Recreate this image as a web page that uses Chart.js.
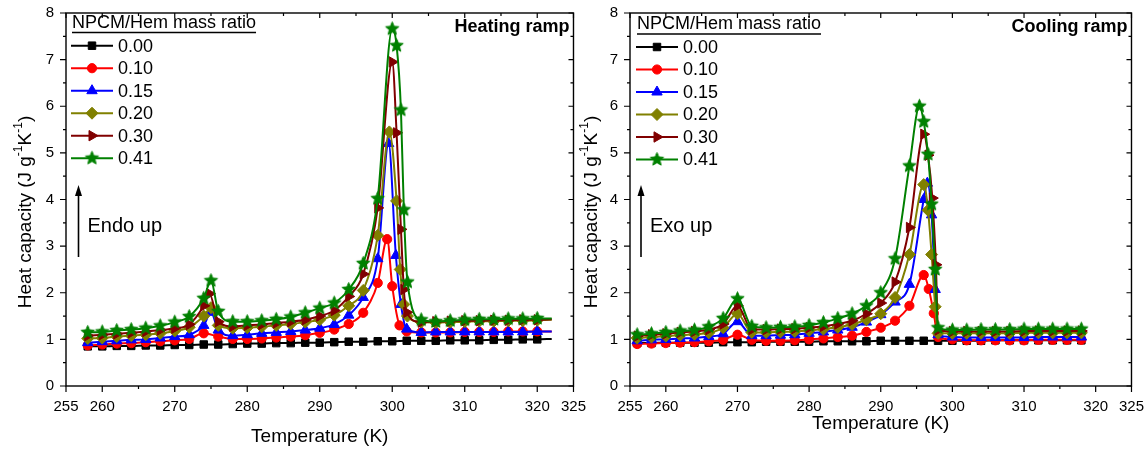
<!DOCTYPE html>
<html lang="en">
<head>
<meta charset="UTF-8">
<title>Heat capacity - heating and cooling ramps</title>
<script src="https://cdn.jsdelivr.net/npm/chart.js"></script>
<style>
  body { margin: 0; background: #fff; }
  #wrap { position: relative; width: 1148px; height: 450px; overflow: hidden; }
  canvas { position: absolute; top: 0; }
  #heatChart { left: 0; }
  #coolChart { left: 570px; }
</style>
</head>
<body>
<div id="wrap">
  <canvas id="heatChart" width="590" height="450"></canvas>
  <canvas id="coolChart" width="578" height="450"></canvas>
</div>
<script>
// NPCM/Hem mass ratios
const ratioLabels = ['0.00', '0.10', '0.15', '0.20', '0.30', '0.41'];
const seriesColors = ['#000000', '#ff0000', '#0000ff', '#808000', '#800000', '#008000'];

// axis ticks
const xTickValues = [255, 260, 270, 280, 290, 300, 310, 320, 325];
const xMinorValues = [265, 275, 285, 295, 305, 315];
const yTickValues = [0, 1, 2, 3, 4, 5, 6, 7, 8];

// heating ramp, temperature (K) and heat capacity (J/gK)
const heatT_000 = [258,260,262,264,266,268,270,272,274,276,278,280,282,284,286,288,290,292,294,296,298,300,302,304,306,308,310,312,314,316,318,320,322];
const heatCp_000 = [0.85,0.85,0.86,0.86,0.87,0.87,0.88,0.88,0.89,0.89,0.90,0.91,0.91,0.92,0.92,0.93,0.93,0.94,0.95,0.95,0.96,0.96,0.97,0.97,0.97,0.98,0.98,0.98,0.99,0.99,1.00,1.00,1.01];

const heatT_010 = [258,260,262,264,266,268,270,272,274,276,278,280,282,284,286,288,290,292,294,296,298,299.3,300,301,302,304,306,308,310,312,314,316,318,320,322];
const heatCp_010 = [0.87,0.89,0.91,0.92,0.94,0.96,0.98,1.01,1.13,1.06,1.01,1.01,1.02,1.04,1.06,1.09,1.14,1.21,1.33,1.57,2.21,3.15,2.14,1.30,1.17,1.15,1.15,1.15,1.16,1.16,1.16,1.17,1.17,1.17,1.17];

const heatT_015 = [258,260,262,264,266,268,270,272,274,275,276,278,280,282,284,286,288,290,292,294,296,298,299.5,300.5,301.2,302,304,306,308,310,312,314,316,318,320,322];
const heatCp_015 = [0.93,0.95,0.97,0.99,1.00,1.03,1.06,1.10,1.30,1.58,1.20,1.08,1.10,1.13,1.15,1.17,1.20,1.24,1.32,1.52,1.90,2.73,5.20,2.80,1.75,1.22,1.15,1.16,1.16,1.16,1.16,1.16,1.16,1.16,1.17,1.17];

const heatT_020 = [258,260,262,264,266,268,270,272,274,275,276,278,280,282,284,286,288,290,292,294,296,298,299.6,300.6,301.1,301.6,302.1,304,306,308,310,312,314,316,318,320,322];
const heatCp_020 = [1.02,1.03,1.06,1.08,1.10,1.13,1.18,1.26,1.50,1.68,1.30,1.24,1.25,1.27,1.30,1.33,1.37,1.42,1.52,1.72,2.05,3.23,5.45,3.97,2.50,1.75,1.50,1.37,1.36,1.37,1.38,1.39,1.39,1.40,1.40,1.41,1.42];

const heatT_030 = [258,260,262,264,266,268,270,272,274,274.8,276,278,280,282,284,286,288,290,292,294,296,298,300,300.6,301.2,301.6,302,304,306,308,310,312,314,316,318,320,322];
const heatCp_030 = [1.08,1.10,1.12,1.14,1.17,1.20,1.24,1.32,1.72,1.98,1.38,1.28,1.30,1.32,1.35,1.38,1.42,1.50,1.62,1.92,2.40,3.82,6.95,5.43,3.36,2.07,1.58,1.37,1.38,1.39,1.40,1.40,1.41,1.41,1.42,1.42,1.43];

const heatT_041 = [258,260,262,264,266,268,270,272,274,275,276,278,280,282,284,286,288,290,292,294,296,298,300,300.6,301.2,301.6,302.1,304,306,308,310,312,314,316,318,320,322];
const heatCp_041 = [1.15,1.16,1.19,1.21,1.24,1.29,1.37,1.49,1.88,2.26,1.60,1.38,1.38,1.40,1.43,1.48,1.57,1.67,1.78,2.07,2.63,4.02,7.66,7.30,5.92,3.78,2.23,1.42,1.38,1.40,1.42,1.43,1.43,1.44,1.44,1.45,1.45];

// cooling ramp
const coolT_000 = [256,258,260,262,264,266,268,270,272,274,276,278,280,282,284,286,288,290,292,294,296,298,300,302,304,306,308,310,312,314,316,318];
const coolCp_000 = [0.92,0.92,0.93,0.93,0.93,0.93,0.94,0.94,0.94,0.95,0.95,0.95,0.95,0.96,0.96,0.96,0.96,0.97,0.97,0.97,0.97,0.97,0.97,0.97,0.97,0.98,0.98,0.98,0.98,0.98,0.98,0.98];

const coolT_010 = [256,258,260,262,264,266,268,270,272,274,276,278,280,282,284,286,288,290,292,294,296,296.7,297.4,298,300,302,304,306,308,310,312,314,316,318];
const coolCp_010 = [0.90,0.91,0.92,0.93,0.94,0.96,0.99,1.10,0.99,0.97,0.97,0.98,1.00,1.02,1.05,1.08,1.16,1.25,1.40,1.72,2.38,2.08,1.56,1.05,1.00,0.98,0.98,0.98,0.98,0.98,0.99,0.99,0.99,0.99];

const coolT_015 = [256,258,260,262,264,266,268,270,272,274,276,278,280,282,284,286,288,290,292,294,296,296.5,297.1,297.6,298,300,302,304,306,308,310,312,314,316,318];
const coolCp_015 = [0.97,0.99,1.00,1.02,1.03,1.06,1.12,1.38,1.08,1.08,1.09,1.10,1.13,1.16,1.20,1.26,1.37,1.53,1.80,2.18,4.00,4.35,3.67,2.07,1.10,1.05,1.04,1.04,1.04,1.04,1.04,1.05,1.05,1.05,1.05];

const coolT_020 = [256,258,260,262,264,266,268,270,272,274,276,278,280,282,284,286,288,290,292,294,296,296.6,297.1,297.6,298,300,302,304,306,308,310,312,314,316,318];
const coolCp_020 = [1.03,1.05,1.07,1.09,1.11,1.14,1.25,1.55,1.15,1.15,1.16,1.17,1.19,1.22,1.26,1.32,1.42,1.55,1.90,2.82,4.32,3.77,2.82,1.70,1.13,1.13,1.13,1.13,1.13,1.13,1.14,1.14,1.14,1.14,1.14];

const coolT_030 = [256,258,260,262,264,266,268,270,272,274,276,278,280,282,284,286,288,290,292,294,296,296.6,297.2,297.7,298,300,302,304,306,308,310,312,314,316,318];
const coolCp_030 = [1.07,1.10,1.12,1.15,1.17,1.21,1.33,1.72,1.21,1.21,1.22,1.23,1.25,1.28,1.33,1.40,1.55,1.78,2.23,3.40,5.40,4.95,4.03,2.60,1.20,1.17,1.17,1.17,1.17,1.17,1.18,1.18,1.18,1.18,1.18];

const coolT_041 = [256,258,260,262,264,266,268,270,272,274,276,278,280,282,284,286,288,290,292,294,295.4,296,296.6,297.1,297.6,298,300,302,304,306,308,310,312,314,316,318];
const coolCp_041 = [1.10,1.12,1.15,1.18,1.20,1.27,1.45,1.87,1.28,1.25,1.26,1.27,1.30,1.36,1.45,1.55,1.72,2.00,2.73,4.72,6.00,5.67,4.97,3.90,2.50,1.25,1.20,1.20,1.21,1.21,1.21,1.22,1.22,1.22,1.22,1.22];

const FONT = '"Liberation Sans", Arial, sans-serif';

// filled five-point star used for the 0.41 series
function makeStar(fill, r) {
  const s = Math.ceil(r * 2 + 3);
  const c = document.createElement('canvas');
  c.width = c.height = s;
  const g = c.getContext('2d');
  g.translate(s / 2, s / 2);
  g.beginPath();
  for (let i = 0; i < 10; i++) {
    const rr = i % 2 ? r * 0.45 : r;
    const a = -Math.PI / 2 + i * Math.PI / 5;
    g.lineTo(rr * Math.cos(a), rr * Math.sin(a));
  }
  g.closePath();
  g.fillStyle = fill;
  g.fill();
  g.strokeStyle = fill;
  g.lineWidth = 1;
  g.stroke();
  return c;
}

const starImg = makeStar('#008000', 7);
const markerStyles = [
  { pointStyle: 'rect', radius: 5.3, rotation: 0 },
  { pointStyle: 'circle', radius: 4.6, rotation: 0 },
  { pointStyle: 'triangle', radius: 6, rotation: 0 },
  { pointStyle: 'rectRot', radius: 6, rotation: 0 },
  { pointStyle: 'triangle', radius: 6, rotation: 90 },
  { pointStyle: starImg, radius: 7, rotation: 0 }
];

function toPoints(ts, cps) {
  return ts.map((t, i) => ({ x: t, y: cps[i] }));
}

function buildDatasets(tList, cpList, lastMarkerT) {
  return tList.map((ts, i) => ({
    label: ratioLabels[i],
    data: toPoints(ts, cpList[i]),
    borderColor: seriesColors[i],
    backgroundColor: seriesColors[i],
    borderWidth: 2,
    cubicInterpolationMode: 'monotone',
    pointStyle: markerStyles[i].pointStyle,
    pointRotation: markerStyles[i].rotation,
    pointBorderWidth: 1,
    pointRadius: c => (c.raw && c.raw.x > lastMarkerT ? 0 : markerStyles[i].radius),
    order: ratioLabels.length - i
  }));
}

// box frame with outward ticks on bottom/left and mirrored inward ticks on top/right
const framePlugin = {
  id: 'frame',
  afterDraw(chart) {
    const { ctx, chartArea: a, scales: { x, y } } = chart;
    ctx.save();
    ctx.strokeStyle = '#000';
    ctx.lineWidth = 1.4;
    ctx.strokeRect(a.left, a.top, a.right - a.left, a.bottom - a.top);
    ctx.lineWidth = 1.2;
    ctx.beginPath();
    xTickValues.forEach(v => {
      const px = x.getPixelForValue(v);
      ctx.moveTo(px, a.bottom); ctx.lineTo(px, a.bottom + 6);
      ctx.moveTo(px, a.top); ctx.lineTo(px, a.top + 5);
    });
    xMinorValues.forEach(v => {
      const px = x.getPixelForValue(v);
      ctx.moveTo(px, a.bottom); ctx.lineTo(px, a.bottom + 3);
      ctx.moveTo(px, a.top); ctx.lineTo(px, a.top + 3);
    });
    yTickValues.forEach(v => {
      const py = y.getPixelForValue(v);
      ctx.moveTo(a.left - 6, py); ctx.lineTo(a.left, py);
      ctx.moveTo(a.right - 5, py); ctx.lineTo(a.right, py);
      if (v < 8) {
        const pm = y.getPixelForValue(v + 0.5);
        ctx.moveTo(a.left - 3, pm); ctx.lineTo(a.left, pm);
        ctx.moveTo(a.right - 3, pm); ctx.lineTo(a.right, pm);
      }
    });
    ctx.stroke();
    ctx.restore();
  }
};

// legend, panel label, arrow note and axis titles
const annotatePlugin = {
  id: 'annotate',
  afterDraw(chart, args, opts) {
    const { ctx, chartArea: a } = chart;
    ctx.save();
    ctx.fillStyle = '#000';
    ctx.strokeStyle = '#000';

    // legend title, underlined
    const lx = a.left + opts.legendDx;
    ctx.font = '18px ' + FONT;
    ctx.textBaseline = 'middle';
    ctx.textAlign = 'left';
    const title = 'NPCM/Hem mass ratio';
    ctx.fillText(title, lx, opts.legendTop);
    const tw = ctx.measureText(title).width;
    ctx.lineWidth = 1.4;
    ctx.beginPath();
    ctx.moveTo(lx, opts.legendTop + 9.5);
    ctx.lineTo(lx + tw, opts.legendTop + 9.5);
    ctx.stroke();

    // legend rows
    ctx.font = '18px ' + FONT;
    chart.data.datasets.forEach((ds, i) => {
      const ry = opts.legendRow0 + i * 22.5;
      ctx.strokeStyle = ds.borderColor;
      ctx.fillStyle = ds.backgroundColor;
      ctx.lineWidth = 2;
      ctx.beginPath();
      ctx.moveTo(lx - 1, ry);
      ctx.lineTo(lx + 41, ry);
      ctx.stroke();
      ctx.lineWidth = 1;
      Chart.helpers.drawPoint(ctx, {
        pointStyle: markerStyles[i].pointStyle,
        radius: markerStyles[i].radius,
        rotation: markerStyles[i].rotation,
        borderWidth: 1
      }, lx + 20, ry);
      ctx.fillStyle = '#000';
      ctx.fillText(ds.label, lx + 46, ry + 1);
    });

    // panel label
    ctx.fillStyle = '#000';
    ctx.strokeStyle = '#000';
    ctx.font = 'bold 18px ' + FONT;
    ctx.textAlign = 'right';
    ctx.fillText(opts.panel, a.right - 4, 27);

    // direction arrow with note
    const ax = a.left + opts.arrowDx;
    ctx.lineWidth = 1.6;
    ctx.beginPath();
    ctx.moveTo(ax, 257);
    ctx.lineTo(ax, 192);
    ctx.stroke();
    ctx.beginPath();
    ctx.moveTo(ax, 185);
    ctx.lineTo(ax - 3.5, 196);
    ctx.lineTo(ax + 3.5, 196);
    ctx.closePath();
    ctx.fill();
    ctx.font = '20px ' + FONT;
    ctx.textAlign = 'left';
    ctx.fillText(opts.note, ax + 9, 226);

    // x title
    ctx.font = '19px ' + FONT;
    ctx.textAlign = 'center';
    ctx.fillText('Temperature (K)', (a.left + a.right) / 2, opts.xTitleY);

    // y title with superscripts
    const parts = [['Heat capacity (J g', false], ['-1', true], ['K', false], ['-1', true], [')', false]];
    const bigF = '19px ' + FONT, smallF = '12px ' + FONT;
    let total = 0;
    parts.forEach(p => { ctx.font = p[1] ? smallF : bigF; total += ctx.measureText(p[0]).width; });
    ctx.translate(opts.yTitleX, 212);
    ctx.rotate(-Math.PI / 2);
    ctx.textAlign = 'left';
    let cx = -total / 2;
    parts.forEach(p => {
      ctx.font = p[1] ? smallF : bigF;
      ctx.fillText(p[0], cx, p[1] ? -7 : 0);
      cx += ctx.measureText(p[0]).width;
    });
    ctx.restore();
  }
};

function makeOptions(yAxisWidth, ann) {
  return {
    responsive: false,
    animation: false,
    layout: { padding: { top: 6, right: 16, left: 0, bottom: 0 } },
    plugins: { legend: { display: false }, tooltip: { enabled: false }, annotate: ann },
    scales: {
      x: {
        type: 'linear',
        min: 255,
        max: 325,
        afterBuildTicks: s => { s.ticks = xTickValues.map(v => ({ value: v })); },
        afterFit: s => { s.height = 64; },
        grid: { display: false },
        border: { display: false },
        ticks: { autoSkip: false, maxRotation: 0, padding: 4, color: '#000', font: { family: FONT, size: 15 } }
      },
      y: {
        min: 0,
        max: 8,
        afterBuildTicks: s => { s.ticks = yTickValues.map(v => ({ value: v })); },
        afterFit: s => { s.width = yAxisWidth; },
        grid: { display: false },
        border: { display: false },
        ticks: { padding: 4, color: '#000', font: { family: FONT, size: 15 } }
      }
    }
  };
}

new Chart(document.getElementById('heatChart'), {
  type: 'line',
  data: {
    datasets: buildDatasets(
      [heatT_000, heatT_010, heatT_015, heatT_020, heatT_030, heatT_041],
      [heatCp_000, heatCp_010, heatCp_015, heatCp_020, heatCp_030, heatCp_041],
      320.5)
  },
  options: makeOptions(66, {
    panel: 'Heating ramp', note: 'Endo up',
    legendDx: 6, legendTop: 23, legendRow0: 45.7, arrowDx: 12.5,
    xTitleY: 437, yTitleX: 26
  }),
  plugins: [framePlugin, annotatePlugin]
});

new Chart(document.getElementById('coolChart'), {
  type: 'line',
  data: {
    datasets: buildDatasets(
      [coolT_000, coolT_010, coolT_015, coolT_020, coolT_030, coolT_041],
      [coolCp_000, coolCp_010, coolCp_015, coolCp_020, coolCp_030, coolCp_041],
      400)
  },
  options: makeOptions(60, {
    panel: 'Cooling ramp', note: 'Exo up',
    legendDx: 7, legendTop: 24.5, legendRow0: 47, arrowDx: 11,
    xTitleY: 424, yTitleX: 22
  }),
  plugins: [framePlugin, annotatePlugin]
});
</script>
</body>
</html>
